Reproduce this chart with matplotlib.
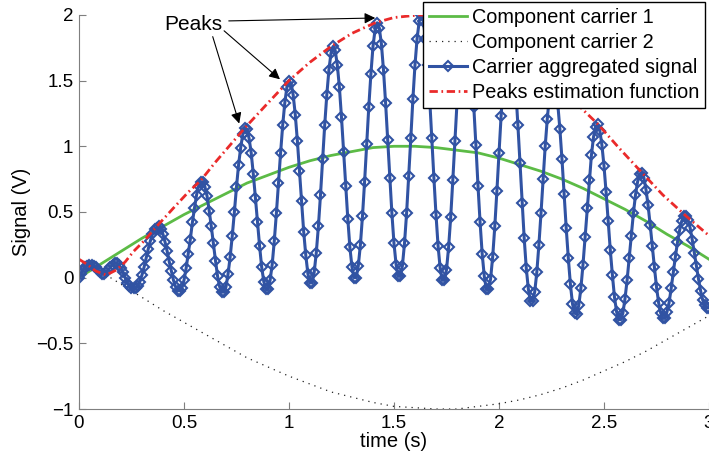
import matplotlib
matplotlib.use('Agg')
import matplotlib.pyplot as plt
import numpy as np

plt.rcParams['font.family'] = ['Liberation Sans', 'DejaVu Sans']

# carrier aggregated signal, one sample every 0.01 s
t_agg = np.linspace(0, 3, 301)
agg = [0.00, 0.03, 0.06, 0.08, 0.09, 0.10, 0.10, 0.09, 0.08, 0.06,
       0.04, 0.03, 0.03, 0.04, 0.06, 0.08, 0.10, 0.11, 0.11, 0.10,
       0.07, 0.04, 0.00, -0.04, -0.06, -0.08, -0.08, -0.08, -0.06, -0.03,
       0.02, 0.08, 0.15, 0.22, 0.28, 0.33, 0.37,
       0.38, 0.39, 0.37, 0.33, 0.27, 0.20, 0.12, 0.05, -0.02, -0.07, -0.10,
       -0.10, -0.08, -0.02, 0.07, 0.18, 0.29, 0.42, 0.53, 0.63, 0.70,
       0.73, 0.73, 0.69, 0.62, 0.51, 0.39, 0.26, 0.13, 0.01, -0.07, -0.11,
       -0.11, -0.07, 0.03, 0.16, 0.32, 0.50, 0.69, 0.86, 0.99, 1.09,
       1.14, 1.13, 1.06, 0.95, 0.79, 0.61, 0.42, 0.24, 0.08, -0.03, -0.09,
       -0.09, -0.02, 0.10, 0.28, 0.49, 0.72, 0.95, 1.16, 1.33, 1.45,
       1.50, 1.48, 1.39, 1.24, 1.04, 0.81, 0.58, 0.35, 0.17, 0.03, -0.04,
       -0.04, 0.04, 0.19, 0.39, 0.63, 0.90, 1.16, 1.39, 1.58, 1.71,
       1.76, 1.73, 1.62, 1.45, 1.22, 0.96, 0.70, 0.45, 0.23, 0.08, 0.00,
       0.00, 0.09, 0.25, 0.47, 0.73, 1.02, 1.30, 1.55, 1.76, 1.89,
       1.94, 1.90, 1.78, 1.58, 1.33, 1.05, 0.76, 0.49, 0.26, 0.10, 0.01,
       0.01, 0.09, 0.26, 0.49, 0.77, 1.06, 1.36, 1.62, 1.82, 1.95,
       2.00, 1.95, 1.82, 1.62, 1.36, 1.06, 0.76, 0.48, 0.24, 0.07, -0.02,
       -0.02, 0.06, 0.23, 0.46, 0.74, 1.04, 1.33, 1.59, 1.80, 1.93,
       1.97, 1.92, 1.78, 1.57, 1.30, 1.01, 0.70, 0.42, 0.18, 0.01, -0.09,
       -0.09, -0.01, 0.16, 0.39, 0.66, 0.95, 1.23, 1.48, 1.68, 1.80,
       1.84, 1.78, 1.64, 1.43, 1.16, 0.87, 0.57, 0.30, 0.07, -0.09, -0.18,
       -0.18, -0.11, 0.04, 0.25, 0.49, 0.75, 1.00, 1.21, 1.38, 1.48,
       1.50, 1.45, 1.32, 1.13, 0.90, 0.64, 0.38, 0.15, -0.05, -0.20, -0.27,
       -0.28, -0.21, -0.08, 0.10, 0.31, 0.53, 0.74, 0.93, 1.07, 1.15,
       1.17, 1.12, 1.01, 0.85, 0.65, 0.43, 0.21, 0.02, -0.15, -0.26, -0.32,
       -0.32, -0.27, -0.16, -0.02, 0.15, 0.32, 0.49, 0.63, 0.73, 0.79,
       0.80, 0.76, 0.67, 0.55, 0.40, 0.24, 0.08, -0.07, -0.19, -0.27, -0.31,
       -0.31, -0.26, -0.19, -0.08, 0.04, 0.16, 0.27, 0.36, 0.43, 0.47,
       0.47, 0.44, 0.38, 0.29, 0.19, 0.09, -0.01, -0.10, -0.17, -0.21, -0.23,
       -0.23]

# component carrier 1
t_cc1 = np.linspace(0, 3, 31)
cc1 = [0.00, 0.10, 0.20, 0.30, 0.39, 0.48, 0.56, 0.64, 0.72, 0.78,
       0.84, 0.89, 0.93, 0.96, 0.99, 1.00, 1.00, 0.99, 0.97, 0.95,
       0.91, 0.86, 0.81, 0.75, 0.68, 0.60, 0.52, 0.43, 0.33, 0.24, 0.14]

# component carrier 2
t_cc2 = [0.15, 0.2, 0.3, 0.4, 0.5, 0.6, 0.7, 0.8, 0.9, 1.0,
         1.1, 1.2, 1.3, 1.4, 1.5, 1.6, 1.7, 1.8, 1.9, 2.0,
         2.1, 2.2, 2.3, 2.4, 2.5, 2.6, 2.7, 2.8, 2.9, 3.0]
cc2 = [0.00, -0.05, -0.15, -0.25, -0.34, -0.43, -0.52, -0.61, -0.68, -0.75,
       -0.81, -0.87, -0.91, -0.95, -0.98, -0.99, -1.00, -1.00, -0.98, -0.96,
       -0.93, -0.89, -0.84, -0.78, -0.71, -0.64, -0.56, -0.47, -0.38, -0.29]

# peaks estimation function
t_est = [0, 0.04, 0.08, 0.13, 0.18, 0.22, 0.26, 0.31, 0.37, 0.45,
         0.52, 0.58, 0.65, 0.72, 0.79, 0.9, 1.0, 1.1, 1.2, 1.3,
         1.41, 1.5, 1.62, 1.73, 1.84, 1.95, 2.05, 2.15, 2.26, 2.36,
         2.47, 2.57, 2.68, 2.78, 2.89, 3.0]
est = [0.14, 0.10, 0.05, 0.02, 0.06, 0.12, 0.20, 0.28, 0.39, 0.53,
       0.65, 0.74, 0.88, 1.01, 1.14, 1.33, 1.50, 1.64, 1.76, 1.86,
       1.94, 1.98, 2.00, 1.99, 1.97, 1.92, 1.84, 1.70, 1.50, 1.34,
       1.17, 0.99, 0.80, 0.63, 0.47, 0.32]

xticks = [0, 0.5, 1, 1.5, 2, 2.5, 3]
xtick_labels = ['0', '0.5', '1', '1.5', '2', '2.5', '3']
yticks = [-1, -0.5, 0, 0.5, 1, 1.5, 2]
ytick_labels = ['\u22121', '\u22120.5', '0', '0.5', '1', '1.5', '2']

fig = plt.figure(figsize=(7.09, 4.62), dpi=100)
ax = fig.add_axes([0.1114, 0.1147, 0.8886, 0.853])

ax.plot(t_cc1, cc1, color='#5cbb46', lw=2, label='Component carrier 1')
ax.plot(t_cc2, cc2, color='#222222', lw=0.9, dashes=(1, 4),
        label='Component carrier 2')
ax.plot(t_agg, agg, color='#3153a3', lw=2.2, marker='D', ms=5.5, mfc='none',
        mec='#3153a3', mew=1.5, label='Carrier aggregated signal')
ax.plot(t_est, est, color='#ea2a2a', lw=2, dashes=(3, 1.3, 0.6, 1.3),
        label='Peaks estimation function')

ax.set_xlim(0, 3)
ax.set_ylim(-1, 2)
ax.set_xticks(xticks)
ax.set_xticklabels(xtick_labels)
ax.set_yticks(yticks)
ax.set_yticklabels(ytick_labels)
ax.tick_params(direction='in', length=5, width=0.8, color='#7f7f7f',
               labelsize=13.5, pad=4)
ax.spines['top'].set_visible(False)
ax.spines['right'].set_visible(False)
ax.spines['left'].set_color('#7f7f7f')
ax.spines['bottom'].set_color('#7f7f7f')
ax.set_xlabel('time (s)', fontsize=14.5, labelpad=0)
ax.set_ylabel('Signal (V)', fontsize=14.5, labelpad=4)

leg = ax.legend(loc='upper right', bbox_to_anchor=(0.994, 1.033),
                fancybox=False, edgecolor='k', framealpha=1, fontsize=14.3,
                handlelength=1.9, handletextpad=0.25, labelspacing=0.3,
                borderpad=0.3, borderaxespad=0)
leg.get_frame().set_linewidth(1.0)

ax.text(0.543, 1.93, 'Peaks', fontsize=15, ha='center', va='center')
arrow = dict(arrowstyle='-|>', color='k', lw=0.8, mutation_scale=16)
ax.annotate('', xy=(0.767, 1.153), xytext=(0.633, 1.855), arrowprops=arrow)
ax.annotate('', xy=(0.967, 1.496), xytext=(0.681, 1.893), arrowprops=arrow)
ax.annotate('', xy=(1.424, 1.977), xytext=(0.70, 1.954), arrowprops=arrow)

plt.savefig('out.png', dpi=100)
